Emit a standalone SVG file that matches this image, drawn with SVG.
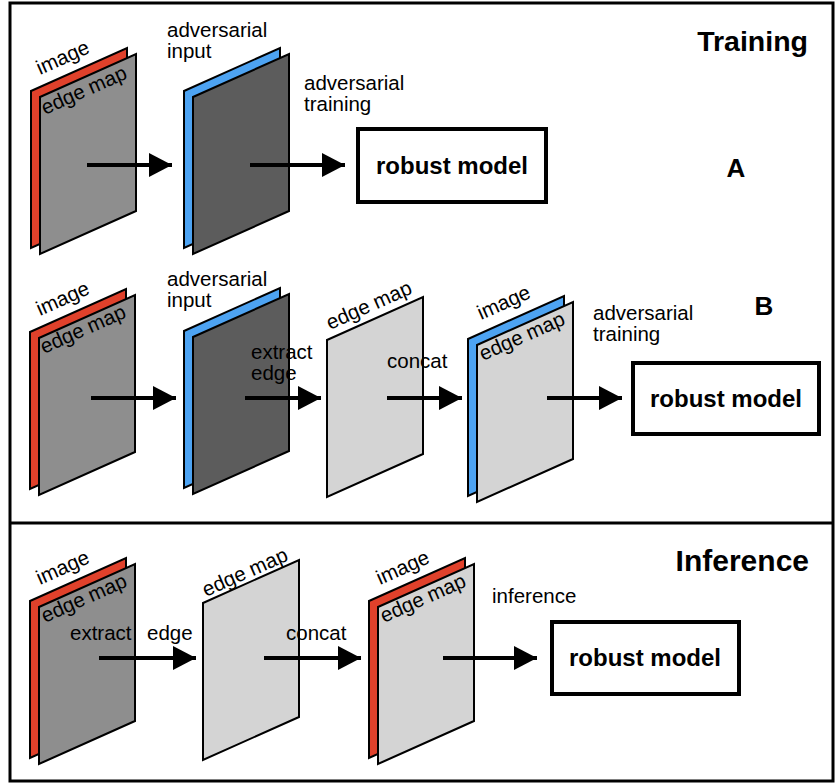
<svg xmlns="http://www.w3.org/2000/svg" width="835" height="783" viewBox="0 0 835 783">
<style>
text{font-family:"Liberation Sans",Arial,Helvetica,sans-serif;fill:#000}
.lbl{font-size:20.5px}
.ttl{font-size:28.5px;font-weight:bold}
.big{font-size:26px;font-weight:bold}
.box{fill:#fff;stroke:#000;stroke-width:4}
.boxt{font-size:24px;font-weight:bold;text-anchor:middle}
.sheet{stroke:#000;stroke-width:2;stroke-linejoin:miter}
.red{fill:#e0412b}
.blue{fill:#4da3f2}
.mid{fill:#8e8e8e}
.dark{fill:#5c5c5c}
.light{fill:#d4d4d4}
.arr{stroke:#000;stroke-width:4;fill:none;marker-end:url(#ah)}
</style>
<defs>
<path id="sh" d="M0,0 L96,-43 L96,114 L0,157 Z"/>
<marker id="ah" markerUnits="userSpaceOnUse" markerWidth="24" markerHeight="24" refX="23" refY="12" orient="auto">
<path d="M0,0 L23,12 L0,24 Z" fill="#000"/>
</marker>
</defs>
<rect x="10" y="3" width="823" height="778" fill="#fff" stroke="#000" stroke-width="3"/>
<line x1="10" y1="523" x2="833" y2="523" stroke="#000" stroke-width="3"/>

<text class="ttl" x="808" y="51" text-anchor="end">Training</text>
<text class="big" x="736" y="177" text-anchor="middle">A</text>
<text class="big" x="764" y="315" text-anchor="middle">B</text>
<text class="ttl" x="809" y="571" text-anchor="end" style="font-size:30px">Inference</text>

<!-- Section A -->
<g id="a-input">
<use href="#sh" class="sheet red" x="31" y="91"/>
<use href="#sh" class="sheet mid" x="40" y="97"/>
<text class="lbl" transform="translate(40,75) rotate(-24)">image</text>
<text class="lbl" transform="translate(45,115) rotate(-24)">edge map</text>
</g>
<g id="a-adv">
<use href="#sh" class="sheet blue" x="184" y="91"/>
<use href="#sh" class="sheet dark" x="193" y="97"/>
<text class="lbl" x="167" y="37">adversarial</text>
<text class="lbl" x="167" y="58">input</text>
</g>
<g id="a-model">
<rect class="box" x="358" y="129" width="188" height="73"/>
<text class="boxt" x="452" y="174">robust model</text>
</g>

<!-- Section B -->
<g id="b-input">
<use href="#sh" class="sheet red" x="30" y="332"/>
<use href="#sh" class="sheet mid" x="39" y="338"/>
<text class="lbl" transform="translate(40,316) rotate(-24)">image</text>
<text class="lbl" transform="translate(44,354) rotate(-24)">edge map</text>
</g>
<g id="b-adv">
<use href="#sh" class="sheet blue" x="184" y="331"/>
<use href="#sh" class="sheet dark" x="193" y="337"/>
<text class="lbl" x="167" y="286">adversarial</text>
<text class="lbl" x="167" y="307">input</text>
</g>
<g id="b-edge">
<use href="#sh" class="sheet light" x="327" y="340"/>
<text class="lbl" transform="translate(330,330) rotate(-24)">edge map</text>
</g>
<g id="b-concat">
<use href="#sh" class="sheet blue" x="468" y="339"/>
<use href="#sh" class="sheet light" x="477" y="345"/>
<text class="lbl" transform="translate(481,320) rotate(-24)">image</text>
<text class="lbl" transform="translate(483,361) rotate(-24)">edge map</text>
</g>
<g id="b-model">
<rect class="box" x="633" y="363" width="186" height="71"/>
<text class="boxt" x="726" y="407">robust model</text>
</g>

<!-- Section Inference -->
<g id="i-input">
<use href="#sh" class="sheet red" x="30" y="601"/>
<use href="#sh" class="sheet mid" x="39" y="607"/>
<text class="lbl" transform="translate(40,585) rotate(-24)">image</text>
<text class="lbl" transform="translate(45,623) rotate(-24)">edge map</text>
</g>
<g id="i-edge">
<use href="#sh" class="sheet light" x="203" y="603"/>
<text class="lbl" transform="translate(206,597) rotate(-24)">edge map</text>
</g>
<g id="i-concat">
<use href="#sh" class="sheet red" x="369" y="601"/>
<use href="#sh" class="sheet light" x="378" y="607"/>
<text class="lbl" transform="translate(380,585) rotate(-24)">image</text>
<text class="lbl" transform="translate(384,623) rotate(-24)">edge map</text>
</g>
<g id="i-model">
<rect class="box" x="552" y="622" width="187" height="72"/>
<text class="boxt" x="645" y="666">robust model</text>
</g>

<g id="connectors">
<line class="arr" x1="87" y1="165" x2="172" y2="165"/>
<line class="arr" x1="250" y1="165" x2="345" y2="165"/>
<text class="lbl" x="304" y="90">adversarial</text>
<text class="lbl" x="304" y="111">training</text>

<line class="arr" x1="91" y1="398" x2="176" y2="398"/>
<line class="arr" x1="245" y1="398" x2="321" y2="398"/>
<text class="lbl" x="251" y="359">extract</text>
<text class="lbl" x="251" y="380">edge</text>
<line class="arr" x1="387" y1="398" x2="462" y2="398"/>
<text class="lbl" x="387" y="368">concat</text>
<line class="arr" x1="547" y1="398" x2="622" y2="398"/>
<text class="lbl" x="593" y="320">adversarial</text>
<text class="lbl" x="593" y="341">training</text>

<line class="arr" x1="99" y1="658" x2="196" y2="658"/>
<text class="lbl" y="640"><tspan x="70">extract</tspan><tspan x="147">edge</tspan></text>
<line class="arr" x1="264" y1="658" x2="361" y2="658"/>
<text class="lbl" x="286" y="640">concat</text>
<line class="arr" x1="443" y1="658" x2="537" y2="658"/>
<text class="lbl" x="492" y="603">inference</text>
</g>
</svg>
